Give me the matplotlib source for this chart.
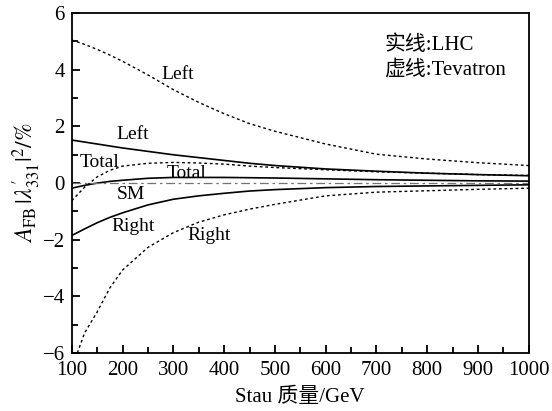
#! /usr/bin/env python3

import matplotlib
matplotlib.use( 'Agg' )
import matplotlib.pyplot as plt
from   matplotlib.ticker import MultipleLocator

#----------------------------------------------------------------------------
# A_FB |lambda'_331|^2 versus stau mass, LHC (solid) and Tevatron (dotted)
#----------------------------------------------------------------------------
mass       = [ 100, 125, 150, 175, 200, 250, 300, 350, 400, 450,
               500, 600, 700, 800, 900, 1000 ]

lhcLeft    = [ 1.52, 1.45, 1.38, 1.31, 1.24, 1.12, 1.00, 0.90, 0.80, 0.70,
               0.62, 0.50, 0.42, 0.35, 0.30, 0.26 ]
lhcTotal   = [ -0.18, -0.08, 0.00, 0.06, 0.10, 0.17, 0.20, 0.20, 0.20, 0.19,
               0.18, 0.15, 0.12, 0.10, 0.08, 0.07 ]
lhcRight   = [ -1.85, -1.62, -1.40, -1.21, -1.05, -0.77, -0.57, -0.45, -0.36,
               -0.28, -0.23, -0.16, -0.12, -0.10, -0.08, -0.06 ]

tevLeft    = [ 5.05, 4.90, 4.72, 4.52, 4.30, 3.82, 3.30, 2.85, 2.45, 2.10,
               1.83, 1.38, 1.02, 0.85, 0.72, 0.62 ]
tevTotal   = [ -0.62, -0.15, 0.22, 0.45, 0.60, 0.70, 0.73, 0.71, 0.67, 0.60,
               0.55, 0.47, 0.40, 0.35, 0.30, 0.27 ]
tevRight   = [ -6.55, -5.30, -4.55, -3.70, -3.07, -2.27, -1.75, -1.38, -1.12,
               -0.92, -0.75, -0.45, -0.32, -0.27, -0.22, -0.18 ]

smValue    = 0.0

# curve labels : ( text, mass, value )
curveLabels = [ ( 'Left',  308,  3.85 ),
                ( 'Left',  220,  1.70 ),
                ( 'Total', 155,  0.74 ),
                ( 'Total', 326,  0.35 ),
                ( 'SM',    216, -0.42 ),
                ( 'Right', 220, -1.52 ),
                ( 'Right', 370, -1.84 ) ]

#----------------------------------------------------------------------------
def main():
    plt.rcParams['font.family']      = [ 'Liberation Serif', 'Noto Sans CJK SC' ]
    plt.rcParams['mathtext.fontset'] = 'stix'
    plt.rcParams['font.size']        = 14

    fig = plt.figure( figsize = ( 5.52, 4.11 ), dpi = 100 )
    ax  = fig.add_axes( [ 0.130, 0.141, 0.828, 0.827 ] )

    dots = ( 0, ( 2, 2 ) )

    ax.plot( mass, lhcLeft,  color = 'black', lw = 1.2 )
    ax.plot( mass, lhcTotal, color = 'black', lw = 1.2 )
    ax.plot( mass, lhcRight, color = 'black', lw = 1.2 )

    ax.plot( mass, tevLeft,  color = 'black', lw = 1.0, linestyle = dots )
    ax.plot( mass, tevTotal, color = 'black', lw = 1.0, linestyle = dots )
    ax.plot( mass, tevRight, color = 'black', lw = 1.0, linestyle = dots )

    ax.axhline( smValue, color = '0.45', lw = 0.9,
                linestyle = ( 0, ( 7, 3, 2, 3 ) ) )

    for text, x, y in curveLabels :
        ax.text( x, y, text, ha = 'center', va = 'center', fontsize = 14 )

    ax.text( 716, 4.87, '实线:LHC',      fontsize = 15, va = 'center' )
    ax.text( 716, 3.99, '虚线:Tevatron', fontsize = 15, va = 'center' )

    ax.set_xlim( 100, 1000 )
    ax.set_ylim( -6, 6 )
    ax.xaxis.set_major_locator( MultipleLocator( 100 ) )
    ax.xaxis.set_minor_locator( MultipleLocator( 50 ) )
    ax.yaxis.set_major_locator( MultipleLocator( 2 ) )
    ax.yaxis.set_minor_locator( MultipleLocator( 1 ) )
    ax.tick_params( which = 'both', direction = 'in', top = False,
                    right = False, labelsize = 15, width = 1.3 )
    ax.tick_params( which = 'major', length = 6 )
    ax.tick_params( which = 'minor', length = 4 )
    ax.tick_params( axis = 'x', pad = 6 )
    ax.tick_params( axis = 'y', pad = 5 )

    for s in ax.spines.values() :
        s.set_linewidth( 1.3 )

    ax.set_xlabel( 'Stau 质量/GeV', fontsize = 15, labelpad = 5 )
    ax.set_ylabel( r'$A_{\mathrm{FB}}\,|\lambda^{\prime}_{331}|^2/\%$',
                   fontsize = 17, labelpad = 0 )

    fig.savefig( 'out.png', dpi = 100 )

#----------------------------------------------------------------------------
if __name__ == "__main__":
    main()
